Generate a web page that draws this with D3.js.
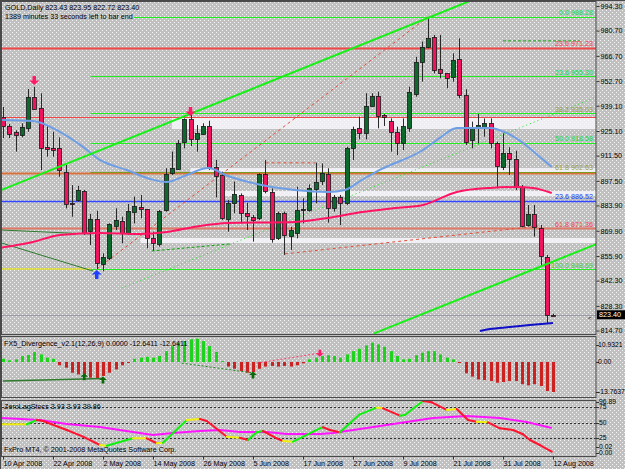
<!DOCTYPE html>
<html>
<head>
<meta charset="utf-8">
<script src="https://cdn.jsdelivr.net/npm/d3@7"></script>
<style>
body { margin: 0; background: #c0c0c0; }
svg { display: block; }
text { font-family: "Liberation Sans", Arial, sans-serif; font-size: 7.2px; fill: #000; }
</style>
</head>
<body>
<script>
// ---- data ----
const dates = ["10 Apr 2008", "22 Apr 2008", "2 May 2008", "14 May 2008", "26 May 2008", "5 Jun 2008",
               "17 Jun 2008", "27 Jun 2008", "9 Jul 2008", "21 Jul 2008", "31 Jul 2008", "12 Aug 2008"];
const dateBars = [0, 8, 16, 24, 32, 40, 48, 56, 64, 72, 80, 88];

const open = [
  932.7, 928.0, 924.7, 922.9, 926.6, 944.1, 937.7, 916.4, 915.9, 915.5,
  902.6, 885.4, 886.9, 891.9, 869.4, 876.2, 851.5, 854.7, 872.7, 875.3,
  868.5, 880.5, 882.9, 881.8, 866.1, 863.0, 881.4, 901.7, 903.9, 918.6,
  931.6, 920.5, 923.4, 927.9, 905.0, 900.8, 876.8, 885.4, 889.7, 879.6,
  877.7, 876.8, 901.1, 891.5, 865.7, 879.6, 867.2, 868.8, 881.4, 881.8,
  893.0, 897.1, 901.1, 882.3, 888.4, 885.1, 915.5, 926.6, 924.2, 939.0,
  944.5, 934.0, 930.8, 924.7, 918.6, 927.2, 946.0, 963.5, 971.4, 977.0,
  959.3, 957.0, 955.2, 965.0, 945.0, 919.8, 927.2, 927.2, 929.4, 918.3,
  905.0, 912.8, 909.5, 894.0, 873.1, 879.2, 871.3, 855.6, 823.43];
const high = [
  938.4, 929.0, 925.5, 929.4, 948.4, 949.6, 946.0, 928.4, 924.7, 921.6,
  906.3, 895.2, 894.7, 892.5, 879.2, 881.0, 857.4, 874.0, 882.3, 877.7,
  884.7, 888.8, 889.7, 881.8, 869.4, 881.4, 904.5, 913.7, 920.1, 932.1,
  937.1, 928.4, 929.4, 930.8, 909.1, 902.6, 886.9, 897.1, 890.6, 885.4,
  878.6, 901.7, 909.1, 893.4, 880.5, 880.5, 872.1, 894.3, 887.9, 895.6,
  907.6, 907.2, 904.5, 889.7, 889.7, 916.4, 927.5, 933.0, 946.0, 946.0,
  946.9, 934.5, 932.1, 927.5, 932.1, 949.6, 966.2, 974.6, 988.3, 978.3,
  978.3, 957.0, 968.1, 976.4, 948.2, 930.3, 934.5, 932.1, 932.1, 919.2,
  923.8, 916.1, 914.2, 895.2, 884.2, 884.2, 873.1, 856.5, 823.95];
const low = [
  921.2, 921.2, 913.7, 921.6, 924.7, 936.7, 903.5, 910.9, 910.9, 899.8,
  882.3, 877.7, 886.0, 867.6, 862.0, 848.7, 847.5, 853.7, 870.3, 863.0,
  867.6, 874.0, 876.8, 860.2, 858.9, 861.1, 880.5, 900.8, 903.5, 915.5,
  916.8, 913.7, 922.9, 903.5, 888.4, 875.9, 869.4, 879.6, 874.0, 870.3,
  863.9, 875.9, 890.6, 863.3, 864.8, 856.5, 859.3, 865.7, 874.0, 880.5,
  885.1, 895.2, 874.4, 880.5, 873.1, 884.2, 909.1, 920.5, 920.5, 938.6,
  926.6, 927.9, 913.7, 911.8, 914.6, 924.7, 944.1, 952.4, 970.9, 957.0,
  954.3, 948.8, 952.4, 943.2, 917.4, 915.5, 918.3, 922.0, 915.5, 893.4,
  903.5, 900.8, 892.5, 871.8, 872.2, 866.6, 850.0, 818.7, 822.72];
const close = [
  927.9, 923.8, 922.9, 927.1, 943.8, 937.7, 915.5, 915.5, 914.6, 903.5,
  885.1, 885.1, 892.5, 868.5, 876.2, 851.9, 855.2, 873.5, 875.9, 868.5,
  880.8, 883.8, 882.0, 865.7, 863.3, 881.0, 901.3, 904.5, 918.3, 931.6,
  920.5, 923.8, 927.9, 905.0, 900.2, 876.8, 885.4, 890.3, 879.6, 878.1,
  876.2, 901.1, 891.5, 865.7, 879.6, 867.2, 870.3, 881.4, 881.8, 893.7,
  897.1, 901.7, 882.3, 888.4, 885.1, 915.5, 926.0, 923.8, 939.0, 944.5,
  933.4, 933.0, 924.7, 918.6, 927.9, 946.9, 963.5, 971.8, 976.4, 958.9,
  957.0, 954.3, 964.4, 945.0, 919.2, 927.2, 928.4, 929.4, 918.3, 905.4,
  912.8, 909.5, 894.3, 872.6, 879.2, 872.2, 855.6, 823.4, 823.40];

const priceTicks = [994.30, 980.70, 966.70, 952.70, 939.10, 925.10, 911.50, 897.50,
                    883.90, 869.90, 855.90, 842.30, 828.30, 814.70];
const lastPrice = 823.40;

// moving averages, [bar, price]
const blueMA = [[-0.2, 931.2], [4.8, 930.6], [9.1, 924.6], [12.8, 916.3], [15.5, 909.1], [19.8, 903.5],
  [23.5, 898.6], [26.2, 896.9], [29.4, 900.8], [32.8, 904.6], [36.0, 900.2], [41.4, 895.2],
  [46.7, 892.5], [52.0, 891.4], [54.7, 892.5], [57.4, 898.0], [60.6, 904.1], [67.2, 914.6],
  [69.9, 921.3], [72.6, 926.8], [77.9, 926.8], [80.6, 924.0], [83.2, 918.5], [85.9, 910.7], [87.8, 905.2]];
const redMA = [[-0.5, 860.4], [4.8, 863.7], [9.1, 867.6], [15.5, 868.7], [21.9, 868.1], [26.2, 869.2],
  [31.5, 872.6], [36.0, 874.2], [46.7, 874.8], [52.0, 877.0], [57.4, 880.3], [62.7, 882.5],
  [67.2, 884.2], [72.6, 891.4], [77.9, 893.6], [82.2, 894.1], [84.8, 893.6], [87.8, 890.8]];
const navyMA = [[76.3, 814.4], [77.9, 815.5], [81.1, 816.6], [84.3, 817.7], [88.0, 818.9]];

// fibonacci levels
const fibGreenNames = ["0.0", "23.6", "38.2", "50.0", "61.8", "100.0"];
const fibGreen = [988.28, 955.30, 935.03, 918.58, 902.63, 848.69];
const fibRedNames = ["23.6", "38.2", "61.8", "61.8"];
const fibRed = [971.23, 933.0, 902.0, 871.36];
const fibBlueNames = ["23.6"];
const fibBlue = [886.52];
const fibStartBar = 14;

// light zones [top, bottom, startBar]
const zoneTop = [932.9, 904.6, 891.9, 865.9];
const zoneBottom = [926.2, 902.4, 889.1, 863.1];
const zoneStart = [27, 30, 35, 22];

// trend lines, [[bar, price], [bar, price]]
const channelLines = [[[-0.2, 892.5], [75, 997.5]], [[59.3, 813.0], [95, 862.6]]];
const greenDotted = [[19, 838.2], [95, 944.0]];
const greenDashed = [[[23.8, 858.7], [36.3, 862.6]], [[80, 975.0], [92.3, 975.0]]];
const redDashed = [[[15, 848.69], [68, 988.28]], [[42, 907.5], [50, 907.5]], [[45.1, 857.1], [85.9, 872.6]]];
const olivePrice = [[[-0.2, 870.3], [14, 868.1]], [[-0.2, 863.1], [14.4, 847.6]]];
const yellowDotted = [[-0.2, 848.69], [14, 848.69]];
const arrowsDown = [[5, 950.6], [30, 933.4]];
const arrowsUp = [[15, 848.2]];

// FX5 divergence histogram
const macd = [
  1.5, 0.8, 1.2, 2.75, 3.2, 4.6, 3.5, 2.0, 1.5, -1.5,
  -2.6, -4.9, -5.7, -6.4, -7.2, -7.6, -6.4, -4.9, -3.4, -1.5,
  -0.3, 1.5, 2.0, 2.4, 2.0, 2.75, 5.0, 7.3, 8.9, 9.6,
  10.4, 10.7, 9.6, 7.3, 4.6, 0.4, -2.1, -3.1, -4.1, -4.9,
  -4.6, -3.1, -2.1, -1.8, -2.1, -1.8, -2.1, -1.5, -0.6, 1.2,
  2.0, 2.75, 3.1, 2.75, 2.0, 3.5, 5.0, 6.1, 7.6, 8.9,
  8.1, 7.0, 5.0, 2.75, 1.2, 1.5, 3.1, 4.3, 5.0, 5.0,
  3.5, 2.0, 1.2, -0.3, -5.2, -6.7, -8.0, -8.3, -8.7, -9.5,
  -9.2, -8.7, -8.7, -10.2, -10.7, -10.2, -11.0, -13.3, -13.76];
const macdMax = 10.9321, macdMin = -13.7637;
const macdDivSolid = [[0, -8.7], [16, -7.6]];
const macdDivDashed = [[28.6, -0.5], [40, -5.0]];
const macdDivPink = [[40.6, -0.5], [50.7, 4.1]];
const macdUp = [[13, -5.2], [16, -6.7], [40, -4.4]];
const macdDown = [[50.7, 2.4]];

// ZeroLag stochastic, [bar, value]
const stochFast = [[-0.5, 47.1], [3.8, 47.1], [5.4, 54.0], [6.4, 52.4], [10.2, 37.9], [12.8, 27.1],
  [15.5, 13.7], [16.6, 12.6], [20.8, 24.5], [23.0, 24.5], [24.6, 16.5], [25.6, 17.4], [29.4, 54.0],
  [31.5, 55.6], [32.6, 52.4], [35.8, 27.1], [37.9, 25.5], [39.2, 21.8], [40.6, 34.2], [41.6, 36.3],
  [43.8, 24.5], [44.8, 20.2], [46.4, 19.0], [50.7, 40.6], [51.2, 42.3], [52.3, 37.9], [53.9, 34.2],
  [57.1, 63.2], [59.8, 73.9], [60.8, 72.9], [63.5, 61.0], [64.3, 62.1], [67.2, 84.7], [68.6, 82.6],
  [71.0, 70.2], [72.6, 71.8], [74.4, 54.0], [75.8, 51.3], [77.6, 50.3], [79.5, 40.6], [81.6, 37.9],
  [83.2, 31.0], [84.3, 21.8], [85.9, 13.7], [87.8, 2.9]];
const stochSlow = [[-0.2, 57.3], [5.9, 54.0], [10.2, 47.6], [15.5, 42.7], [20.8, 34.7], [24.0, 29.8],
  [27.2, 33.1], [31.5, 36.3], [34.7, 37.9], [37.9, 34.7], [42.2, 34.7], [45.4, 31.5], [50.7, 31.5],
  [52.8, 33.1], [58.2, 41.1], [63.5, 49.2], [68.8, 57.3], [74.2, 60.5], [79.5, 57.3], [83.8, 50.8], [87.8, 41.1]];
const stochLevels = [75, 50, 25];
const stochLabels = ["96.89", "75", "50", "25", "0.02", "0.00"];
const stochLabelVals = [96.89, 75, 50, 25, 0.02, 0];

// ---- layout ----
const W = 625, H = 469;
const left = 2, right = 596;
const mainTop = 2, mainBottom = 334;
const macdTop = 336, macdBottom = 397;
const stTop = 400, stBottom = 456;

let x = d3.scaleLinear().domain([0, 95]).range([3, 596.75]);
let y = d3.scaleLinear().domain([814.7, 994.3]).range([330.5, 6]);
let ym = d3.scaleLinear().domain([macdMin, macdMax]).range([392, 338.2]);
let ys = d3.scaleLinear().domain([0, 100]).range([453.5, 391.5]);

let px = v => Math.round(x(v)) + 0.5;

let svg = d3.select("body").append("svg").attr("width", W).attr("height", H);
let defs = svg.append("defs");

// speckled grey background like the gif
let pat = defs.append("pattern").attr("id", "dots")
  .attr("width", 4).attr("height", 4).attr("patternUnits", "userSpaceOnUse");
pat.append("rect").attr("width", 4).attr("height", 4).attr("fill", "#c0c0c0");
pat.append("rect").attr("x", 0).attr("y", 0).attr("width", 1).attr("height", 1).attr("fill", "#f4f4f4");
pat.append("rect").attr("x", 2).attr("y", 2).attr("width", 1).attr("height", 1).attr("fill", "#f4f4f4");

svg.append("rect").attr("width", W).attr("height", H).attr("fill", "url(#dots)");

function clip(id, y0, y1) {
  defs.append("clipPath").attr("id", id).append("rect")
    .attr("x", left).attr("y", y0).attr("width", right - left).attr("height", y1 - y0);
  return svg.append("g").attr("clip-path", "url(#" + id + ")");
}

let main = clip("cmain", mainTop, mainBottom);
let lineXY = (sx, sy) => d3.line().x(d => sx(d[0])).y(d => sy(d[1]));
let priceLine = lineXY(x, y);

// ---- main panel ----
// light zones
main.selectAll(".zone").data(zoneTop).join("rect")
  .attr("x", (d, i) => x(zoneStart[i])).attr("width", (d, i) => right - x(zoneStart[i]))
  .attr("y", d => y(d)).attr("height", (d, i) => y(zoneBottom[i]) - y(d))
  .attr("fill", "#f6f6fc").attr("opacity", 0.85);

// fibonacci horizontal lines
main.selectAll(".fr").data(fibRed).join("line")
  .attr("x1", left).attr("x2", right)
  .attr("y1", d => Math.round(y(d)) + 0.5).attr("y2", d => Math.round(y(d)) + 0.5)
  .attr("stroke", (d, i) => i == 3 ? "#e07a68" : (i == 2 ? "#d8703c" : "#f04848"))
  .attr("stroke-width", (d, i) => i == 1 ? 1 : 2);
main.selectAll(".fb").data(fibBlue).join("line")
  .attr("x1", left).attr("x2", right)
  .attr("y1", d => Math.round(y(d)) + 0.5).attr("y2", d => Math.round(y(d)) + 0.5)
  .attr("stroke", "#3046ff").attr("stroke-width", 1.5);
main.selectAll(".fg").data(fibGreen).join("line")
  .attr("x1", (d, i) => i == 0 ? 134 : x(fibStartBar)).attr("x2", right)
  .attr("y1", d => Math.round(y(d)) + 0.5).attr("y2", d => Math.round(y(d)) + 0.5)
  .attr("stroke", (d, i) => i == 4 ? "#7a9a20" : "#22ee22").attr("stroke-width", 1);

// thin drawn lines
main.append("path").attr("d", priceLine(yellowDotted)).attr("stroke", "#f0f000")
  .attr("stroke-width", 1.5).attr("stroke-dasharray", "1,1").attr("fill", "none");
main.selectAll(".ol").data(olivePrice).join("path").attr("d", d => priceLine(d))
  .attr("stroke", "#2e7a2e").attr("fill", "none");
main.selectAll(".rd").data(redDashed).join("path").attr("d", d => priceLine(d))
  .attr("stroke", "#e0503c").attr("stroke-dasharray", "3,3").attr("fill", "none");
main.append("path").attr("d", priceLine(greenDotted)).attr("stroke", "#22dd22")
  .attr("stroke-dasharray", "1,3").attr("fill", "none");
main.selectAll(".gd").data(greenDashed).join("path").attr("d", d => priceLine(d))
  .attr("stroke", "#14a014").attr("stroke-dasharray", "3,2").attr("fill", "none");

// last price line
main.append("line").attr("x1", left).attr("x2", right)
  .attr("y1", Math.round(y(lastPrice)) + 0.5).attr("y2", Math.round(y(lastPrice)) + 0.5)
  .attr("stroke", "#9a9aa6");

// candles
let bars = d3.range(open.length);
main.selectAll(".wick").data(bars).join("line")
  .attr("x1", i => px(i)).attr("x2", i => px(i))
  .attr("y1", i => y(high[i])).attr("y2", i => y(low[i]))
  .attr("stroke", "#2a2a2a");
main.selectAll(".body").data(bars).join("rect")
  .attr("x", i => Math.round(x(i)) - 1.5).attr("width", 4)
  .attr("y", i => Math.round(y(Math.max(open[i], close[i]))) + 0.5)
  .attr("height", i => Math.max(1, Math.round(Math.abs(y(open[i]) - y(close[i])))))
  .attr("fill", i => close[i] >= open[i] ? "#0c6a2c" : "#f0145e")
  .attr("stroke", "#1a1a1a").attr("stroke-width", 0.8);

// moving averages
let smooth = d3.line().x(d => x(d[0])).y(d => y(d[1])).curve(d3.curveMonotoneX);
main.append("path").attr("d", smooth(blueMA)).attr("stroke", "#6e9ee6").attr("stroke-width", 2).attr("fill", "none");
main.append("path").attr("d", smooth(redMA)).attr("stroke", "#ff1464").attr("stroke-width", 2).attr("fill", "none");
main.append("path").attr("d", smooth(navyMA)).attr("stroke", "#1010c8").attr("stroke-width", 2).attr("fill", "none");

// channel
main.selectAll(".ch").data(channelLines).join("path").attr("d", d => priceLine(d))
  .attr("stroke", "#18f018").attr("stroke-width", 2).attr("fill", "none");

// signal arrows
function arrow(g, cx, tip, dir, color, s) {
  // dir 1 = pointing down, -1 = pointing up
  let h = s, w = s * 0.55;
  let pts = [[cx, tip], [cx - w, tip - dir * h * 0.5], [cx - w * 0.35, tip - dir * h * 0.5],
             [cx - w * 0.35, tip - dir * h], [cx + w * 0.35, tip - dir * h],
             [cx + w * 0.35, tip - dir * h * 0.5], [cx + w, tip - dir * h * 0.5]];
  g.append("polygon").attr("points", pts.map(p => p.join(",")).join(" ")).attr("fill", color);
}
arrowsDown.forEach(d => arrow(main, x(d[0]), y(d[1]), 1, "#ff1a66", 9));
arrowsUp.forEach(d => arrow(main, x(d[0]), y(d[1]), -1, "#2040ff", 9));

// fib labels
let fibLabels = svg.append("g").attr("text-anchor", "end");
fibGreen.forEach((p, i) => {
  let olive = fibRed.some(r => Math.abs(r - p) < 3);
  fibLabels.append("text").attr("x", 593).attr("y", y(p) - 1.5)
    .style("fill", olive ? "#a0a030" : (i == 5 ? "#5ccc10" : "#22dd22"))
    .text(fibGreenNames[i] + " " + p.toFixed(2));
});
[0, 3].forEach(i => {
  fibLabels.append("text").attr("x", 593).attr("y", y(fibRed[i]) - 1.5)
    .style("fill", "#f04848").text(fibRedNames[i] + " " + fibRed[i].toFixed(2));
});
fibBlue.forEach((p, i) => {
  fibLabels.append("text").attr("x", 593).attr("y", y(p) - 1.5)
    .style("fill", "#2838ff").text(fibBlueNames[i] + " " + p.toFixed(2));
});

// header
svg.append("text").attr("x", 5).attr("y", 9.5).text("GOLD,Daily  823.43 823.95 822.72 823.40");
svg.append("text").attr("x", 5).attr("y", 19).text("1389 minutes 33 seconds left to bar end");

// ---- FX5 divergence panel ----
let mp = clip("cmacd", macdTop, macdBottom);
mp.selectAll(".hb").data(bars).join("rect")
  .attr("x", i => Math.round(x(i)) - 1).attr("width", 3)
  .attr("y", i => Math.min(ym(0), ym(macd[i])))
  .attr("height", i => Math.max(1, Math.abs(ym(macd[i]) - ym(0))))
  .attr("fill", i => macd[i] >= 0 ? "#1ed21e" : "#cc2222");
let macdLine = lineXY(x, ym);
mp.append("path").attr("d", macdLine(macdDivSolid)).attr("stroke", "#2e7a2e").attr("stroke-width", 1.5).attr("fill", "none");
mp.append("path").attr("d", macdLine(macdDivDashed)).attr("stroke", "#208a20").attr("stroke-dasharray", "2,2").attr("fill", "none");
mp.append("path").attr("d", macdLine(macdDivPink)).attr("stroke", "#ff3c6a").attr("stroke-dasharray", "2,2").attr("fill", "none");
macdUp.forEach(d => arrow(mp, x(d[0]), ym(d[1]), -1, "#0a6a0a", 7));
macdDown.forEach(d => arrow(mp, x(d[0]), ym(d[1]), 1, "#ff1a66", 7));
svg.append("text").attr("x", 4).attr("y", 346)
  .text("FX5_Divergence_v2.1(12,26,9) 0.0000 -12.6411 -12.6411");

// ---- stochastic panel ----
let sp = clip("cstoch", stTop, stBottom);
sp.selectAll(".lvl").data(stochLevels).join("line")
  .attr("x1", left).attr("x2", right)
  .attr("y1", d => Math.round(ys(d)) + 0.5).attr("y2", d => Math.round(ys(d)) + 0.5)
  .attr("stroke", "#333").attr("stroke-dasharray", "2,2");
let stLine = lineXY(x, ys);
sp.append("path").attr("d", stLine(stochSlow)).attr("stroke", "#ff14ff").attr("stroke-width", 2).attr("fill", "none");
let segs = d3.range(stochFast.length - 1);
sp.selectAll(".seg").data(segs).join("line")
  .attr("x1", i => x(stochFast[i][0])).attr("y1", i => ys(stochFast[i][1]))
  .attr("x2", i => x(stochFast[i + 1][0])).attr("y2", i => ys(stochFast[i + 1][1]))
  .attr("stroke", i => {
    let s = (stochFast[i + 1][1] - stochFast[i][1]) / (stochFast[i + 1][0] - stochFast[i][0]);
    return s > 1.2 ? "#10f010" : (s < -1.2 ? "#ff1430" : "#f0f010");
  })
  .attr("stroke-width", 2).attr("stroke-linecap", "round");
svg.append("text").attr("x", 4).attr("y", 409).text("ZeroLagStocs 3.93 3.93 39.86");
svg.append("text").attr("x", 4).attr("y", 451.5).text("FxPro MT4, \u00a9 2001-2008 MetaQuotes Software Corp.");

// ---- frames ----
let frame = svg.append("g").attr("fill", "none").attr("stroke", "#4a4a4a");
frame.append("rect").attr("x", 1.5).attr("y", 1.5).attr("width", right - 1.5).attr("height", mainBottom - 1);
frame.append("rect").attr("x", 1.5).attr("y", macdTop + 0.5).attr("width", right - 1.5).attr("height", macdBottom - macdTop);
frame.append("rect").attr("x", 1.5).attr("y", stTop + 0.5).attr("width", right - 1.5).attr("height", stBottom - stTop);
frame.append("line").attr("x1", 0.5).attr("x2", 0.5).attr("y1", 0).attr("y2", H);
frame.append("line").attr("x1", 0).attr("x2", W).attr("y1", 0.5).attr("y2", 0.5);

// ---- axes ----
let yAxis = svg.append("g").attr("transform", "translate(" + (right + 0.5) + ",0)")
  .call(d3.axisRight(y).tickValues(priceTicks).tickFormat(d => d.toFixed(2)).tickSize(3).tickPadding(1));
let xAxis = svg.append("g").attr("transform", "translate(0," + (stBottom + 0.5) + ")")
  .call(d3.axisBottom(x).tickValues(dateBars).tickFormat((d, i) => dates[i]).tickSize(3).tickPadding(1));
[yAxis, xAxis].forEach(a => {
  a.select(".domain").remove();
  a.selectAll("line").attr("stroke", "#333");
  a.selectAll("text").style("font-size", "7.2px").style("font-family", '"Liberation Sans", Arial, sans-serif');
});
xAxis.selectAll("text").attr("text-anchor", "start").attr("x", 0);

// sub-panel scale labels
let sub = svg.append("g");
[[macdMax, macdMax.toFixed(4)], [0, "0.00"], [macdMin, macdMin.toFixed(4)]].forEach(d => {
  let yy = Math.max(ym(d[0]), macdTop + 9);
  sub.append("line").attr("x1", right).attr("x2", right + 3).attr("y1", Math.round(yy) + 0.5).attr("y2", Math.round(yy) + 0.5).attr("stroke", "#333");
  sub.append("text").attr("x", right + 2).attr("y", yy).attr("dy", "0.32em")
    .style("font-size", "6.8px").text(d[1]);
});
stochLabelVals.forEach((v, i) => {
  let yy = Math.min(Math.max(ys(v), stTop + 1.5), stBottom - 3);
  if (i == 4) yy -= 6;
  sub.append("line").attr("x1", right).attr("x2", right + 3).attr("y1", Math.round(yy) + 0.5).attr("y2", Math.round(yy) + 0.5).attr("stroke", "#333");
  sub.append("text").attr("x", right + 3).attr("y", yy).attr("dy", "0.32em")
    .style("font-size", "6.8px").text(stochLabels[i]);
});

// current price box
let yp = y(lastPrice);
svg.append("rect").attr("x", right + 1).attr("y", yp - 4.5).attr("width", 28).attr("height", 9).attr("fill", "#000");
svg.append("text").attr("x", right + 3).attr("y", yp).attr("dy", "0.32em").style("fill", "#fff").text(lastPrice.toFixed(2));
svg.append("text").attr("x", 588).attr("y", yp + 5).style("font-size", "6px").text("<");
</script>
</body>
</html>
